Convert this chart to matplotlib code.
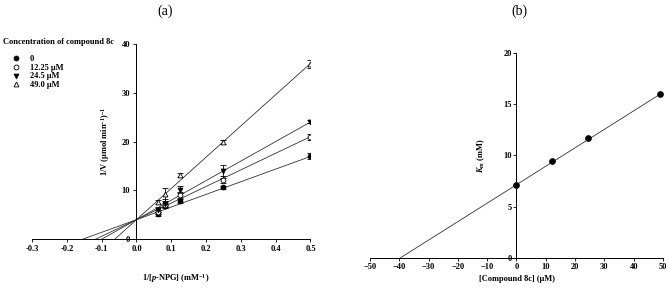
import numpy as np
import matplotlib
matplotlib.use("Agg")
import matplotlib.pyplot as plt
from matplotlib.lines import Line2D

plt.rcParams.update({
    "font.family": "Liberation Serif",
    "font.weight": "bold",
    "mathtext.fontset": "custom",
    "mathtext.rm": "Liberation Serif:bold",
    "mathtext.it": "Liberation Serif:italic:bold",
    "mathtext.bf": "Liberation Serif:bold",
    "axes.linewidth": 0.7,
})

# ── panel (a): Lineweaver-Burk data ───────────────────────────────────────────
inv_s = [0.0625, 0.0833, 0.125, 0.25, 0.5]
conc_labels = ["0", "12.25 μM", "24.5 μM", "49.0 μM"]
inv_v = [
    [5.1, 6.8, 7.8, 10.6, 17.0],
    [5.5, 7.0, 9.0, 12.2, 21.0],
    [6.0, 7.3, 10.1, 13.9, 24.1],
    [7.6, 9.2, 13.2, 20.0, 35.9],
]
inv_v_err = [
    [0.4, 0.3, 0.4, 0.3, 0.6],
    [0.4, 0.5, 0.6, 0.7, 0.6],
    [0.5, 1.0, 0.7, 1.3, 0.3],
    [0.4, 1.3, 0.4, 0.4, 0.9],
]
lb_intercept = 4.0
lb_slopes = [25.9, 34.0, 40.0, 64.0]

markers = ["o", "o", "v", "^"]
faces = ["black", "white", "black", "white"]

# ── panel (b): secondary plot ────────────────────────────────────────────────
inhib = [0, 12.25, 24.5, 49.0]
km = [7.1, 9.5, 11.7, 16.0]
km_intercept = 7.15
km_slope = 0.18

FS = 6

fig = plt.figure(figsize=(6.69, 2.99), dpi=100)

# ── (a) ──
ax = fig.add_axes([0.048, 0.200, 0.416, 0.653])
for i in range(4):
    x0 = -lb_intercept / lb_slopes[i]
    xs = np.array([x0, inv_s[-1]])
    ax.plot(xs, lb_intercept + lb_slopes[i] * xs, color="#333333", lw=0.6, zorder=1)
    ax.errorbar(inv_s, inv_v[i], yerr=inv_v_err[i], fmt=markers[i],
                mfc=faces[i], mec="black", ms=3.5, mew=0.6, ecolor="black",
                elinewidth=0.6, capsize=2, capthick=0.6, zorder=3)

ax.set_xlim(-0.3, 0.5)
ax.set_ylim(0, 40)
ax.spines["left"].set_position(("data", 0))
ax.spines["bottom"].set_position(("data", 0))
ax.spines["top"].set_visible(False)
ax.spines["right"].set_visible(False)
ax.set_xticks(np.arange(-0.3, 0.51, 0.1))
ax.set_xticklabels([f"{v:.1f}" for v in np.arange(-0.3, 0.51, 0.1)])
ax.set_yticks([0, 10, 20, 30, 40])
ax.tick_params(labelsize=FS, length=2.5, width=0.6, pad=2)
ax.text(-0.09, 20, "1/V (μmol min$^{-1}$)$^{-1}$", rotation=90,
        ha="center", va="center", fontsize=FS)
fig.text(0.263, 0.07, r"1/[$\mathit{p}$-NPG] (mM$^{-1}$)", ha="center",
         va="center", fontsize=FS)
fig.text(0.247, 0.962, "(a)", ha="center", va="center", fontsize=10,
         fontweight="normal")

fig.text(0.004, 1 - 42 / 299, "Concentration of compound 8c", ha="left",
         va="center", fontsize=FS)
handles = [Line2D([], [], marker=markers[i], ls="none", mfc=faces[i], mec="black",
                  ms=3.5, mew=0.6) for i in range(4)]
fig.legend(handles, conc_labels, loc="upper left",
           bbox_to_anchor=(0.008, 1 - 49 / 299), frameon=False, fontsize=FS,
           handlelength=1.2, handletextpad=1.0, labelspacing=0.1,
           borderpad=0.2)

# ── (b) ──
bx = fig.add_axes([0.553, 0.137, 0.438, 0.686])
xs = np.array([-km_intercept / km_slope, inhib[-1]])
bx.plot(xs, km_intercept + km_slope * xs, color="#333333", lw=0.6, zorder=1)
bx.plot(inhib, km, "o", color="black", ms=3.8, zorder=3)
bx.set_xlim(-50, 50)
bx.set_ylim(0, 20)
bx.spines["left"].set_position(("data", 0))
bx.spines["bottom"].set_position(("data", 0))
bx.spines["top"].set_visible(False)
bx.spines["right"].set_visible(False)
bx.set_xticks(np.arange(-50, 51, 10))
bx.set_yticks([0, 5, 10, 15, 20])
bx.tick_params(labelsize=FS, length=2, width=0.6, pad=1.5)
bx.text(-12, 10, r"$K_m$ (mM)", rotation=90, ha="center", va="center",
        fontsize=FS)
fig.text(0.773, 0.068, "[Compound 8c] (μM)", ha="center", va="center",
         fontsize=FS)
fig.text(0.777, 0.962, "(b)", ha="center", va="center", fontsize=10,
         fontweight="normal")

fig.savefig("out.png", dpi=100)
